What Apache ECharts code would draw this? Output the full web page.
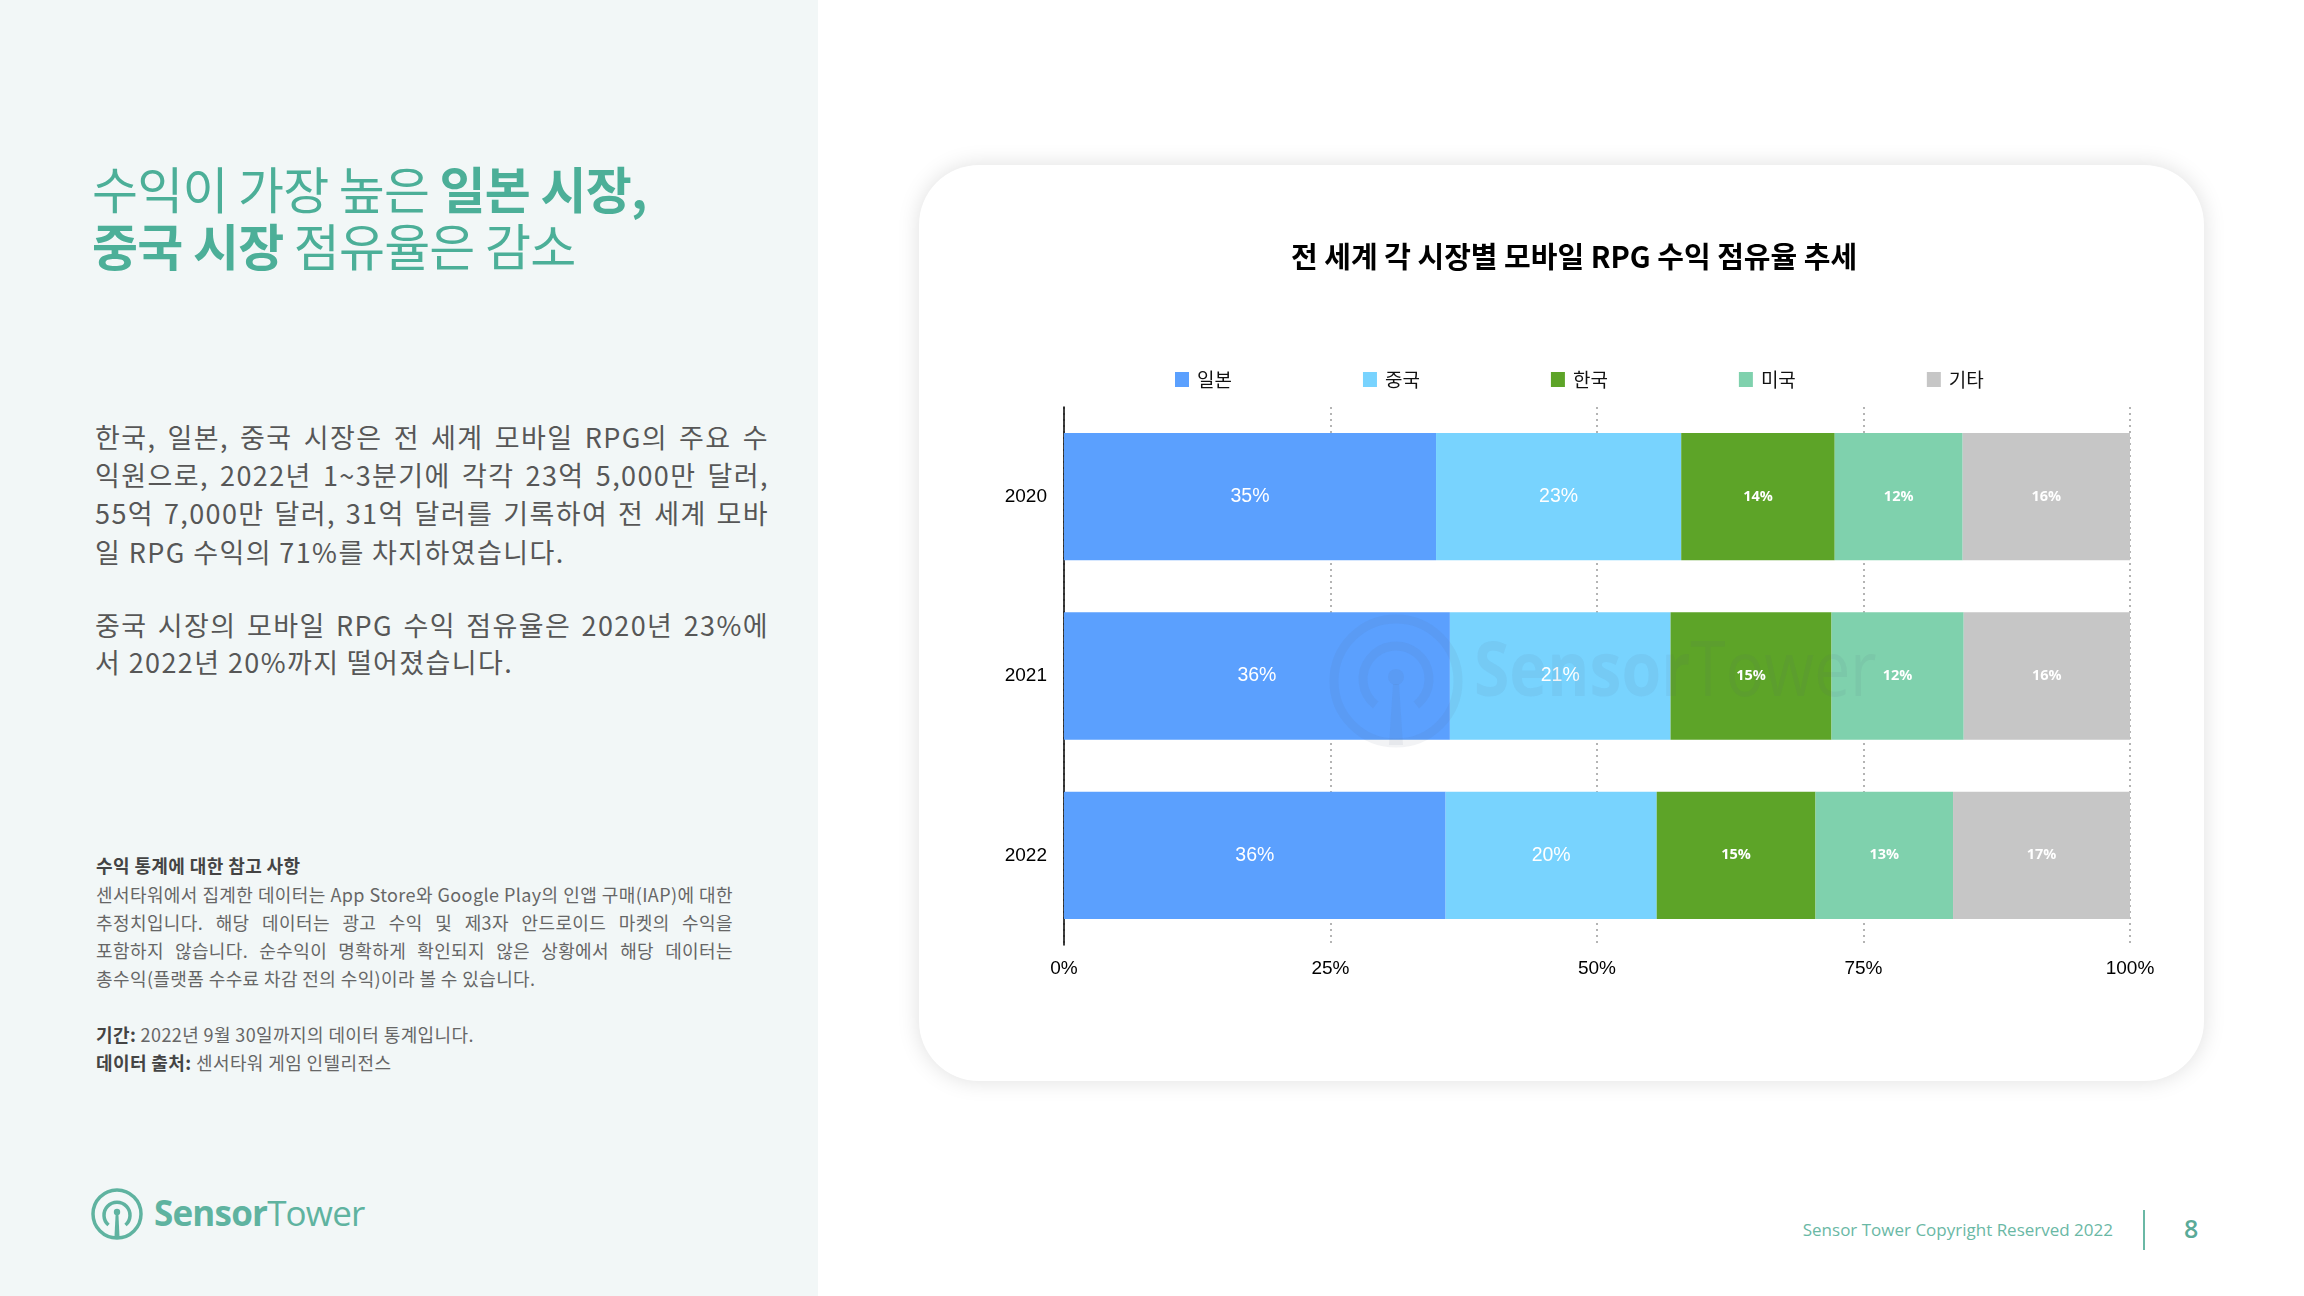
<!DOCTYPE html>
<html>
<head>
<meta charset="utf-8">
<script src="https://cdn.jsdelivr.net/npm/echarts@6/dist/echarts.min.js"></script>
<style>
  html, body { margin:0; padding:0; width:2304px; height:1296px; overflow:hidden; background:#ffffff; font-family:"Noto Sans CJK KR", "Noto Sans", sans-serif; }
  #panel { position:absolute; left:0; top:0; width:818px; height:1296px; background:#f2f7f7; }
  .t { position:absolute; left:92px; font-size:50px; line-height:60px; color:#4caf98; letter-spacing:-0.8px; white-space:nowrap; }
  .t b { font-weight:700; }
  .p { position:absolute; left:95px; width:674px; font-size:27px; line-height:38px; color:#575757; white-space:nowrap; letter-spacing:1.4px; }
  .j { text-align:justify; text-align-last:justify; }
  .n { position:absolute; left:96px; width:637px; font-size:18px; line-height:28px; color:#666; white-space:nowrap; letter-spacing:0.4px; }
  .n b { color:#444; font-weight:700; }
  #card { position:absolute; left:919px; top:165px; width:1285px; height:916px; background:#fff; border-radius:60px; box-shadow:0 0 22px rgba(0,0,0,0.13); }
  #chart { position:absolute; left:0; top:0; width:2304px; height:1296px; }
  #foot { position:absolute; right:191px; top:1216px; font-family:"Open Sans", "Noto Sans", sans-serif; font-size:17px; line-height:28px; color:#6ab8a5; white-space:nowrap; font-weight:400; }
  #div { position:absolute; left:2143px; top:1210px; width:2px; height:40px; background:#6ab8a5; }
  #pg { position:absolute; left:2184px; top:1212px; font-family:"Open Sans", sans-serif; font-size:25px; line-height:32px; color:#5aaa98; font-weight:600; }
  #logo { position:absolute; left:86px; top:1182px; }
</style>
</head>
<body>
<div id="panel">
  <div class="t" style="top:157px;">수익이 가장 높은 <b>일본 시장,</b></div>
  <div class="t" style="top:214px;"><b>중국 시장</b> 점유율은 감소</div>

  <div class="p j" style="top:418px;">한국, 일본, 중국 시장은 전 세계 모바일 RPG의 주요 수</div>
  <div class="p j" style="top:456px;">익원으로, 2022년 1~3분기에 각각 23억 5,000만 달러,</div>
  <div class="p j" style="top:494px;">55억 7,000만 달러, 31억 달러를 기록하여 전 세계 모바</div>
  <div class="p" style="top:533px;">일 RPG 수익의 71%를 차지하였습니다.</div>
  <div class="p j" style="top:606px;">중국 시장의 모바일 RPG 수익 점유율은 2020년 23%에</div>
  <div class="p" style="top:643px;">서 2022년 20%까지 떨어졌습니다.</div>

  <div class="n" style="top:851px;"><b>수익 통계에 대한 참고 사항</b></div>
  <div class="n j" style="top:880px;">센서타워에서 집계한 데이터는 App Store와 Google Play의 인앱 구매(IAP)에 대한</div>
  <div class="n j" style="top:908px;">추정치입니다. 해당 데이터는 광고 수익 및 제3자 안드로이드 마켓의 수익을</div>
  <div class="n j" style="top:936px;">포함하지 않습니다. 순수익이 명확하게 확인되지 않은 상황에서 해당 데이터는</div>
  <div class="n" style="top:964px;">총수익(플랫폼 수수료 차감 전의 수익)이라 볼 수 있습니다.</div>
  <div class="n" style="top:1020px;"><b>기간:</b> 2022년 9월 30일까지의 데이터 통계입니다.</div>
  <div class="n" style="top:1048px;"><b>데이터 출처:</b> 센서타워 게임 인텔리전스</div>

  <svg id="logo" width="300" height="64" viewBox="0 0 300 64">
    <circle cx="31" cy="32" r="24" fill="none" stroke="#5fb3a0" stroke-width="3.5"/>
    <path d="M 22.5 43 A 13 13 0 1 1 39.5 43" fill="none" stroke="#5fb3a0" stroke-width="3.5"/>
    <circle cx="31" cy="30" r="3.2" fill="#5fb3a0"/>
    <polygon points="29.6,32 32.4,32 33.6,56 28.4,56" fill="#5fb3a0"/>
    <text x="68" y="44" font-family="Open Sans, Noto Sans, sans-serif" font-size="35" fill="#5fb3a0" letter-spacing="-0.8"><tspan font-weight="700">Sensor</tspan><tspan font-weight="400">Tower</tspan></text>
  </svg>
</div>

<div id="card"></div>
<div id="foot">Sensor Tower Copyright Reserved 2022</div>
<div id="div"></div>
<div id="pg">8</div>
<div id="chart"></div>

<script>
// ---- data ----
const categories = ['2020', '2021', '2022'];
const seriesNames = ['일본', '중국', '한국', '미국', '기타'];
const japan = [34.9, 36.2, 35.8];
const china = [23.0, 20.7, 19.8];
const korea = [14.4, 15.1, 14.9];
const usa   = [12.0, 12.4, 12.9];
const other = [15.7, 15.6, 16.6];
const xTickLabels = ['0%', '25%', '50%', '75%', '100%'];
const chartTitle = '전 세계 각 시장별 모바일 RPG 수익 점유율 추세';

const colors = ['#5ba0fe', '#78d3fe', '#5da428', '#7fd1ad', '#c6c6c6'];
const values = [japan, china, korea, usa, other];

const FONT = "'Liberation Sans', 'Noto Sans CJK KR', sans-serif";
const wm = 'rgba(80,95,115,0.075)';

const chart = echarts.init(document.getElementById('chart'), null, { renderer: 'canvas' });

const series = seriesNames.map((name, i) => ({
  name: name,
  type: 'bar',
  stack: 'total',
  barWidth: '71%',
  data: values[i],
  itemStyle: { color: colors[i] },
  label: {
    show: true,
    position: 'inside',
    color: '#ffffff',
    fontFamily: i < 2 ? FONT : "'Open Sans', 'Noto Sans', sans-serif",
    fontSize: i < 2 ? 19.5 : 14.5,
    fontWeight: i < 2 ? 'normal' : 'bold',
    formatter: p => Math.round(p.value) + '%'
  },
  emphasis: { disabled: true }
}));

chart.setOption({
  animation: false,
  color: colors,
  title: {
    text: chartTitle,
    left: 1286,
    top: 237,
    textStyle: { fontFamily: "'Noto Sans CJK KR', sans-serif", fontSize: 29, fontWeight: 'bold', color: '#000' }
  },
  legend: {
    data: seriesNames,
    left: 1170,
    top: 365,
    icon: 'rect',
    itemWidth: 14,
    itemHeight: 15,
    itemGap: 131,
    textStyle: { fontFamily: "'Noto Sans CJK KR', sans-serif", fontSize: 19, color: '#111', padding: [0, 0, 0, 3] }
  },
  grid: { left: 1064, right: 174, top: 407, bottom: 351, containLabel: false },
  xAxis: {
    type: 'value',
    min: 0,
    max: 100,
    interval: 25,
    axisLine: { show: false },
    axisTick: { show: false },
    axisLabel: {
      margin: 14,
      fontFamily: FONT,
      fontSize: 19,
      color: '#000',
      formatter: v => xTickLabels[Math.round(v / 25)]
    },
    splitLine: { show: true, lineStyle: { type: [2, 4], color: '#b4b4b4', width: 2 } }
  },
  yAxis: {
    type: 'category',
    inverse: true,
    data: categories,
    axisLine: { show: true, lineStyle: { color: '#000', width: 1.5 } },
    axisTick: { show: false },
    axisLabel: { margin: 17, fontFamily: FONT, fontSize: 19, color: '#000' }
  },
  series: series,
  graphic: [
    { type: 'circle', z: 100, shape: { cx: 1396, cy: 681, r: 62 }, style: { fill: 'none', stroke: wm, lineWidth: 9 } },
    { type: 'arc', z: 100, shape: { cx: 1396, cy: 679, r: 33, startAngle: 128 * Math.PI / 180, endAngle: 412 * Math.PI / 180, clockwise: true }, style: { fill: 'none', stroke: wm, lineWidth: 9 } },
    { type: 'circle', z: 100, shape: { cx: 1396, cy: 677, r: 8 }, style: { fill: wm } },
    { type: 'polygon', z: 100, shape: { points: [[1393, 684], [1399, 684], [1403, 745], [1389, 745]] }, style: { fill: wm } },
    { type: 'text', z: 100, x: 1474, y: 636, scaleX: 0.845, style: {
        x: 0, y: 0,
        text: '{b|Sensor}{r|Tower}',
        rich: {
          b: { fontFamily: "'Open Sans', sans-serif", fontSize: 76, fontWeight: 'bold', fill: wm },
          r: { fontFamily: "'Open Sans', sans-serif", fontSize: 76, fontWeight: 'normal', fill: wm }
        }
    } }
  ]
});
</script>
</body>
</html>
